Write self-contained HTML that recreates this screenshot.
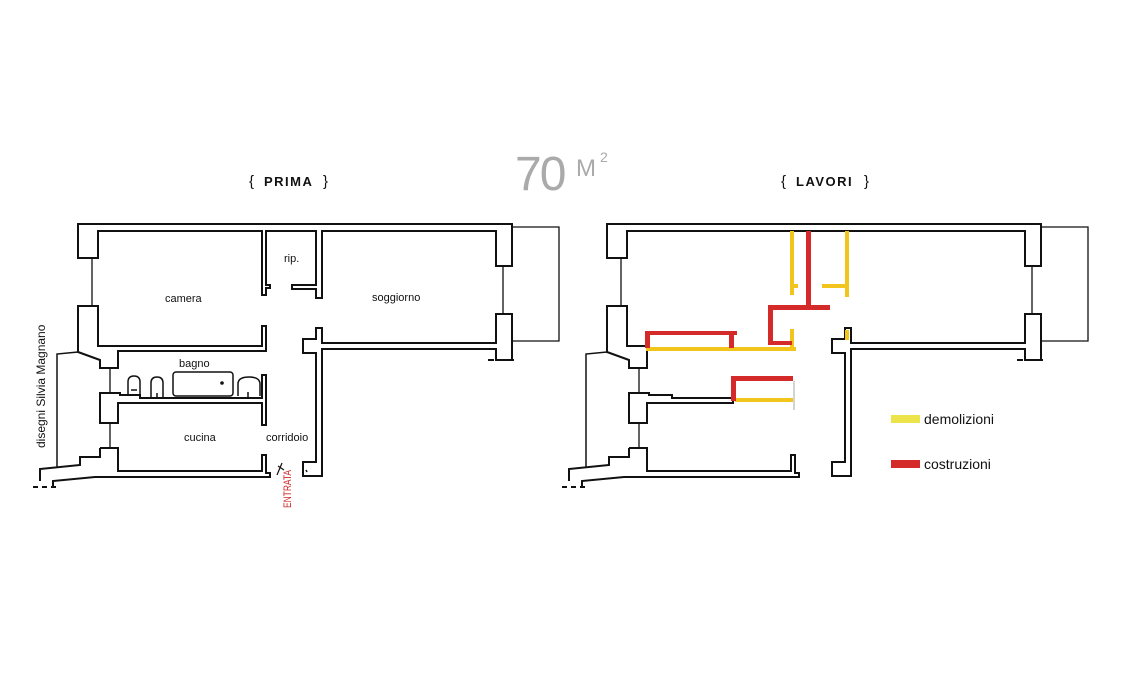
<!DOCTYPE html>
<html><head><meta charset="utf-8"><style>
html,body{margin:0;padding:0;background:#fff;}
svg{display:block;}
text{font-family:"Liberation Sans",sans-serif;}
</style></head><body>
<svg width="1140" height="680" viewBox="0 0 1140 680" xmlns="http://www.w3.org/2000/svg">
<defs>
<g id="shell" fill="none" stroke="#111" stroke-width="2" stroke-linejoin="miter">
  <path d="M98,258 H78 V224 H512 V266 H496 V231 H98 Z" fill="#fff"/>
  <path d="M316,328 V339 H303 V353 H316 V462 H303 V476 H322 V349 H496 V360 H512 V314 H496 V343 H322 V328 Z" fill="#fff"/>
  <path d="M100,448 H118 V471 H262 V455 H266 V473 H270 V477 H95 L53,481 V487"/>
  <path d="M100,448 V457 H80 V465 L40,469 V481"/>
  <path d="M57,467 V354 L78,352" stroke-width="1.5"/>
  <path d="M512,227 H559 V341 H512" stroke-width="1.3"/>
  <g stroke-width="1.3">
    <line x1="92" y1="258" x2="92" y2="306"/>
    <line x1="503" y1="266" x2="503" y2="314"/>
    <line x1="110" y1="368" x2="110" y2="393"/>
    <line x1="110" y1="423" x2="110" y2="448"/>
  </g>
  <path d="M488,360 H516" stroke-dasharray="6,4"/>
  <path d="M33,487 H56" stroke-dasharray="5,4"/>
</g>
</defs>

<!-- PRIMA -->
<use href="#shell"/>
<g fill="#fff" stroke="#111" stroke-width="2">
  <path d="M78,306 H98 V346 H262 V326 H266 V351 H118 V368 H100 V360 L78,352 Z"/>
  <path d="M100,393 H120 V395 H140 V398 H262 V375 H266 V425 H262 V403 H118 V423 H100 Z"/>
  <path d="M262,230 V295 H266 V288 H270 V285 H266 V230"/>
  <path d="M322,230 V298 H316 V289 H292 V285 H316 V230"/>
</g>
<g fill="none" stroke="#111" stroke-width="1.5">
  <path d="M128,396 V382 Q128,376 134,376 Q140,376 140,382 V396"/>
  <line x1="131" y1="390" x2="137" y2="390"/>
  <path d="M151,397 V383 Q151,377 157,377 Q163,377 163,383 V397"/>
  <line x1="157" y1="393" x2="157" y2="399"/>
  <rect x="173" y="372" width="60" height="24" rx="3"/>
  <path d="M238,396 V384 Q238,377 249,377 Q260,377 260,384 V396"/>
  <line x1="248" y1="392" x2="248" y2="399"/>
  <path d="M277,475 L282,463 M278,466 L284,470" stroke-width="1.2"/>
</g>
<circle cx="222" cy="383" r="1.8" fill="#111"/>
<line x1="306" y1="470" x2="307" y2="472" stroke="#111" stroke-width="1.5"/>

<g font-size="11" fill="#111">
  <text x="165" y="302">camera</text>
  <text x="284" y="262">rip.</text>
  <text x="372" y="301">soggiorno</text>
  <text x="179" y="367">bagno</text>
  <text x="184" y="441">cucina</text>
  <text x="266" y="441">corridoio</text>
</g>
<text transform="translate(45,448) rotate(-90)" font-size="12" fill="#111">disegni Silvia Magnano</text>
<text transform="translate(291,508) rotate(-90)" font-size="11" fill="#d42a2a" textLength="38" lengthAdjust="spacingAndGlyphs">ENTRATA</text>

<!-- Headers -->
<text x="249" y="186" font-size="15" fill="#111">{</text>
<text x="264" y="186" font-size="13" font-weight="bold" fill="#111" letter-spacing="1.5">PRIMA</text>
<text x="323" y="186" font-size="15" fill="#111">}</text>
<text x="781" y="186" font-size="15" fill="#111">{</text>
<text x="796" y="186" font-size="13" font-weight="bold" fill="#111" letter-spacing="1.5">LAVORI</text>
<text x="864" y="186" font-size="15" fill="#111">}</text>
<text x="515" y="190" font-size="48" fill="#aaa" letter-spacing="-2">70</text>
<text x="576" y="176" font-size="24" fill="#aaa">M</text>
<text x="600" y="162" font-size="14" fill="#aaa">2</text>

<!-- LAVORI -->
<g transform="translate(529,0)">
  <use href="#shell"/>
  <g fill="#fff" stroke="#111" stroke-width="2">
    <path d="M78,306 H98 V346 H118 V368 H100 V360 L78,352 Z"/>
    <path d="M100,393 H120 V395 H143 V398 H204 V403 H118 V423 H100 Z"/>
  </g>
</g>
<g fill="#f2c51c">
  <rect x="790" y="231" width="4" height="64"/>
  <rect x="794" y="284" width="4" height="4"/>
  <rect x="845" y="231" width="4" height="66"/>
  <rect x="822" y="284" width="25" height="4"/>
  <rect x="790" y="329" width="4" height="20"/>
  <rect x="845" y="330" width="4" height="10"/>
  <rect x="646" y="347" width="150" height="4"/>
  <rect x="735" y="398" width="58" height="4"/>
</g>
<g fill="#d42a2a">
  <rect x="806" y="231" width="5" height="78"/>
  <rect x="768" y="305" width="62" height="5"/>
  <rect x="768" y="305" width="5" height="40"/>
  <rect x="768" y="341" width="24" height="4"/>
  <rect x="645" y="331" width="92" height="4"/>
  <rect x="645" y="331" width="5" height="17"/>
  <rect x="729" y="331" width="5" height="17"/>
  <rect x="731" y="376" width="62" height="5"/>
  <rect x="731" y="376" width="5" height="25"/>
</g>
<line x1="794" y1="381" x2="794" y2="410" stroke="#aaa" stroke-width="1"/>

<!-- Legend -->
<rect x="891" y="415" width="29" height="8" fill="#ece44a"/>
<text x="924" y="424" font-size="14" fill="#111">demolizioni</text>
<rect x="891" y="460" width="29" height="8" fill="#d42a2a"/>
<text x="924" y="469" font-size="14" fill="#111">costruzioni</text>
</svg>
</body></html>
